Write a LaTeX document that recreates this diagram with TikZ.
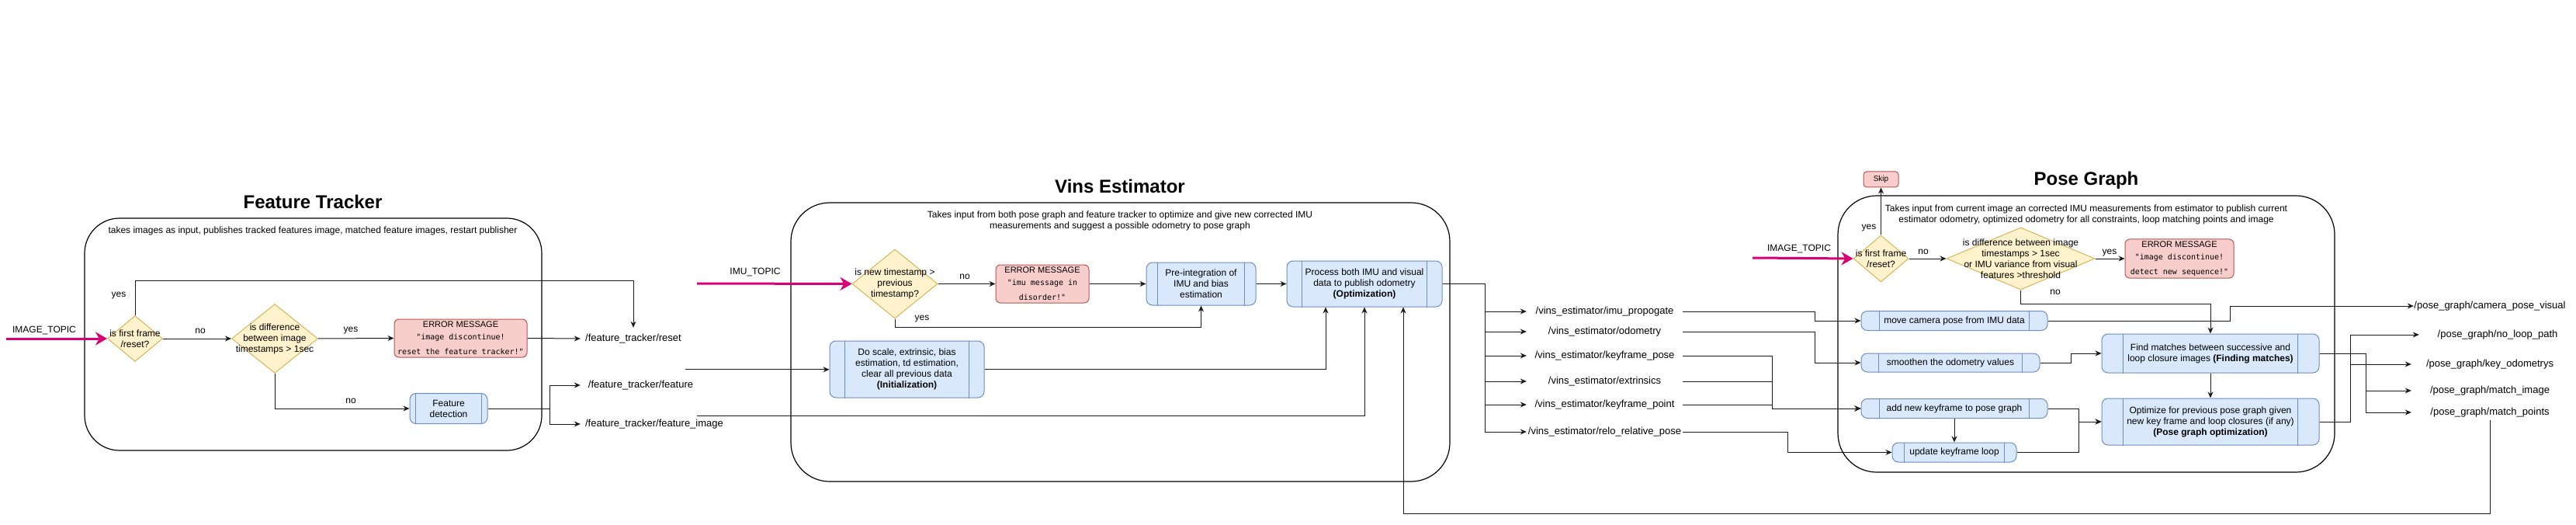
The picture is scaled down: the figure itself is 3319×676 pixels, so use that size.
\documentclass[tikz,border=0pt]{standalone}
\usepackage{fontspec}
\setmainfont{Liberation Sans}
\newfontfamily\monof{DejaVu Sans Mono}
\usetikzlibrary{shapes.geometric,arrows.meta,calc}
\definecolor{yfill}{HTML}{FFF2CC}
\definecolor{ydraw}{HTML}{D6B656}
\definecolor{rfill}{HTML}{F8CECC}
\definecolor{rdraw}{HTML}{B85450}
\definecolor{bfill}{HTML}{DAE8FC}
\definecolor{bdraw}{HTML}{6C8EBF}
\definecolor{topicc}{HTML}{D80073}
\definecolor{linec}{HTML}{1A1A1A}
\newcommand\psides[2]{\draw[pside] ([xshift=#2pt]#1.north west) -- ([xshift=#2pt]#1.south west) ([xshift=-#2pt]#1.north east) -- ([xshift=-#2pt]#1.south east);}
\newcommand\mtxt[1]{{\monof\fontsize{10}{12}\selectfont #1}}
\begin{document}
\begin{tikzpicture}[x=1pt,y=-1pt,
  every node/.style={font=\fontsize{12}{14}\selectfont},
  cont/.style={draw, line width=1.2pt, rounded corners=45pt, inner sep=0},
  ttl/.style={inner sep=0, font=\fontsize{24}{28}\selectfont\bfseries},
  dia/.style={diamond, draw=ydraw, fill=yfill, line width=1pt, inner sep=0},
  dtext/.style={align=center, inner sep=0},
  errbox/.style={draw=rdraw, fill=rfill, line width=1pt, rounded corners=6pt, align=center, inner sep=0, font=\fontsize{11}{16}\selectfont},
  procbox/.style={draw=bdraw, fill=bfill, line width=1pt, rounded corners=8pt, align=center, inner sep=0},
  pside/.style={draw=bdraw, line width=1pt},
  lab/.style={font=\fontsize{13}{15}\selectfont, inner sep=0, minimum height=20pt},
  small/.style={inner sep=0},
  arr/.style={-{Stealth[length=8pt,width=7pt]}, draw=linec, line width=1pt},
  topic/.style={-{Stealth[length=15pt,width=17pt]}, draw=topicc, line width=3pt}
]
\useasboundingbox (0,0) rectangle (3319,676);

% ================= Feature Tracker =================
\node[cont, minimum width=589pt, minimum height=299pt] (ftc) at (403.5,430.5) {};
\node[ttl] (ftt) at (403,260) {Feature Tracker};
\node[small] (ftd) at (403,297) {takes images as input, publishes tracked features image, matched feature images, restart publisher};
\node[small] (it1) at (57,426) {IMAGE\_TOPIC};
\coordinate (src1) at (8,436);
\node[dia, minimum width=71pt, minimum height=59pt] (d1) at (174,436) {};
\node[dtext] (d1t) at (d1) {is first frame\\/reset?};
\node[dia, minimum width=111pt, minimum height=89pt] (d2) at (354,436) {};
\node[dtext] (d2t) at (d2) {is difference\\between image\\timestamps > 1sec};
\node[errbox, minimum width=171pt, minimum height=49pt] (err1) at (593.5,435.5) {ERROR MESSAGE\\\mtxt{"image discontinue!}\\[3pt]\mtxt{reset the feature tracker!"}};
\node[procbox, minimum width=100pt, minimum height=39pt] (fdet) at (578,526) {Feature\\detection};
\psides{fdet}{8}
\node[lab, minimum width=136pt, minimum height=28pt] (ftr) at (816,436) {/feature\_tracker/reset};
\node[lab, minimum width=155pt, minimum height=40pt] (ftf) at (825.5,496) {/feature\_tracker/feature};
\node[lab, minimum width=190pt, minimum height=20pt] (fti) at (843,546) {/feature\_tracker/feature\_image};
\node[small] (y1) at (153,381) {yes};
\node[small] (n1) at (258,426) {no};
\node[small] (y2) at (452,426) {yes};
\node[small] (n2) at (452,516) {no};

\draw[topic] (src1) -- (d1.west);
\draw[arr] (d1.north) -- ++(0,-45) -| (ftr.north);
\draw[arr] (d1.east) -- (d2.west);
\draw[arr] (d2.east) -- (err1.west);
\draw[arr] (err1.east) -- (ftr.west);
\draw[arr] (d2.south) |- (fdet.west);
\draw[arr] (fdet.east) -- ++(80,0) |- (ftf.west);
\draw[arr] (fdet.east) -- ++(80,0) |- (fti.west);

% ================= Vins Estimator =================
\node[cont, rounded corners=50pt, minimum width=849pt, minimum height=359pt] (vc) at (1443.5,440.5) {};
\node[ttl] (vt) at (1443,240) {Vins Estimator};
\node[small, align=center] (vd) at (1443,284) {Takes input from both pose graph and feature tracker to optimize and give new corrected IMU\\measurements and suggest a possible odometry to pose graph};
\node[small] (it2) at (973,351) {IMU\_TOPIC};
\coordinate (src2) at (898,365);
\node[dia, minimum width=110pt, minimum height=89pt] (d3) at (1153,365.5) {};
\node[dtext] (d3t) at (d3) {is new timestamp >\\previous\\timestamp?};
\node[errbox, minimum width=120pt, minimum height=49pt] (err2) at (1343,365.5) {ERROR MESSAGE\\\mtxt{"imu message in}\\[3pt]\mtxt{disorder!"}};
\node[procbox, minimum width=141pt, minimum height=55pt] (pre) at (1547.5,365.5) {Pre-integration of\\IMU and bias\\estimation};
\psides{pre}{15}
\node[procbox, minimum width=200pt, minimum height=59pt] (optz) at (1758,365.5) {Process both IMU and visual\\data to publish odometry\\\textbf{(Optimization)}};
\psides{optz}{20}
\node[procbox, minimum width=199pt, minimum height=73pt] (init) at (1168.5,475.5) {Do scale, extrinsic, bias\\estimation, td estimation,\\clear all previous data\\\textbf{(Initialization)}};
\psides{init}{20}
\node[small] (n3) at (1243,356) {no};
\node[small] (y3) at (1188,411) {yes};

\draw[topic] (src2) -- (d3.west);
\draw[arr] (d3.east) -- (err2.west);
\draw[arr] (err2.east) -- (pre.west);
\draw[arr] (d3.south) -- ++(0,11) -| (pre.south);
\draw[arr] (pre.east) -- (optz.west);
\draw[arr] ([xshift=-20pt]ftf.north east) -- (init.west |- ftf.north);
\draw[arr] (init.east) -| ([xshift=-50pt]optz.south);
\draw[arr] ([xshift=-40pt]fti.north east) -| (optz.south);

% vins outputs
\node[lab, minimum width=201pt] (vl1) at (2067.5,401) {/vins\_estimator/imu\_propogate};
\node[lab, minimum width=201pt] (vl2) at (2067.5,427) {/vins\_estimator/odometry};
\node[lab, minimum width=201pt] (vl3) at (2067.5,458) {/vins\_estimator/keyframe\_pose};
\node[lab, minimum width=201pt] (vl4) at (2067.5,491) {/vins\_estimator/extrinsics};
\node[lab, minimum width=201pt] (vl5) at (2067.5,521) {/vins\_estimator/keyframe\_point};
\node[lab, minimum width=201pt] (vl6) at (2067.5,556) {/vins\_estimator/relo\_relative\_pose};
\draw[arr] (optz.east) -- ++(55,0) |- (vl1.west);
\draw[arr] (optz.east) -- ++(55,0) |- (vl2.west);
\draw[arr] (optz.east) -- ++(55,0) |- (vl3.west);
\draw[arr] (optz.east) -- ++(55,0) |- (vl4.west);
\draw[arr] (optz.east) -- ++(55,0) |- (vl5.west);
\draw[arr] (optz.east) -- ++(55,0) |- (vl6.west);

% ================= Pose Graph =================
\node[cont, rounded corners=50pt, minimum width=640pt, minimum height=356pt] (pgc) at (2688,430) {};
\node[ttl] (pgt) at (2688,232) {Pose Graph};
\node[small, align=center] (pgd) at (2688,276) {Takes input from current image an corrected IMU measurements from estimator to publish current\\estimator odometry, optimized odometry for all constraints, loop matching points and image};
\node[errbox, rounded corners=4pt, minimum width=45pt, minimum height=20pt, font=\fontsize{10}{12}\selectfont] (skip) at (2423.5,231) {Skip};
\node[small] (it3) at (2318,321) {IMAGE\_TOPIC};
\coordinate (src3) at (2258,332);
\node[dia, minimum width=71pt, minimum height=60pt] (d4) at (2423.5,333) {};
\node[dtext] (d4t) at (d4) {is first frame\\/reset?};
\node[dia, minimum width=191pt, minimum height=80pt] (d5) at (2603.5,333) {};
\node[dtext] (d5t) at (d5) {is difference between image\\timestamps > 1sec\\or IMU variance from visual\\features >threshold};
\node[errbox, minimum width=140pt, minimum height=50pt] (err3) at (2808,333) {ERROR MESSAGE\\\mtxt{"image discontinue!}\\[3pt]\mtxt{detect new sequence!"}};
\node[small] (y4) at (2408,294) {yes};
\node[small] (n4) at (2478,324) {no};
\node[small] (y5) at (2718,326) {yes};
\node[small] (n5) at (2648,376) {no};

\node[procbox, minimum width=240pt, minimum height=25pt] (move) at (2518,413) {move camera pose from IMU data};
\psides{move}{24}
\node[procbox, minimum width=230pt, minimum height=24pt] (smooth) at (2513,467) {smoothen the odometry values};
\psides{smooth}{23}
\node[procbox, minimum width=240pt, minimum height=25pt] (addkf) at (2518,526) {add new keyframe to pose graph};
\psides{addkf}{24}
\node[procbox, minimum width=160pt, minimum height=25pt] (updkf) at (2518,582.5) {update keyframe loop};
\psides{updkf}{16}
\node[procbox, minimum width=280pt, minimum height=50pt] (findm) at (2848,455) {Find matches between successive and\\loop closure images \textbf{(Finding matches)}};
\psides{findm}{28}
\node[procbox, minimum width=280pt, minimum height=60pt] (optim) at (2848,543) {Optimize for previous pose graph given\\new key frame and loop closures (if any)\\\textbf{(Pose graph optimization)}};
\psides{optim}{28}

\node[lab, minimum width=196pt] (pl1) at (3208,394) {/pose\_graph/camera\_pose\_visual};
\node[lab, minimum width=202pt] (pl2) at (3218,431) {/pose\_graph/no\_loop\_path};
\node[lab, minimum width=202pt] (pl3) at (3208,469) {/pose\_graph/key\_odometrys};
\node[lab, minimum width=202pt] (pl4) at (3208,503) {/pose\_graph/match\_image};
\node[lab, minimum width=202pt] (pl5) at (3208,531) {/pose\_graph/match\_points};

\draw[topic] (src3) -- (d4.west);
\draw[arr] (d4.north) -- (skip.south);
\draw[arr] (d4.east) -- (d5.west);
\draw[arr] (d5.east) -- (err3.west);
\draw[arr] (d5.south) -- ++(0,18) -| (findm.north);
\draw[arr] (vl1.east) -- ++(170,0) |- (move.west);
\draw[arr] (vl2.east) -- ++(170,0) |- (smooth.west);
\draw[arr] (vl3.east) -- ++(115,0) |- (addkf.west);
\draw[arr] (vl4.east) -- ++(115,0) |- (addkf.west);
\draw[arr] (vl5.east) -- ++(115,0) |- (addkf.west);
\draw[arr] (vl6.east) -- ++(135,0) |- (updkf.west);
\draw[arr] (move.east) -- ++(235,0) |- (pl1.west);
\draw[arr] (smooth.east) -- ++(40,0) |- (findm.west);
\draw[arr] (addkf.south) -- (updkf.north);
\draw[arr] (addkf.east) -- ++(40,0) |- (optim.west);
\draw[arr] (updkf.east) -- ++(80,0) |- (optim.west);
\draw[arr] (findm.south) -- (optim.north);
\draw[arr] (findm.east) -- ++(60,0) |- (pl4.west);
\draw[arr] (findm.east) -- ++(60,0) |- (pl5.west);
\draw[arr] (optim.east) -- ++(40,0) |- (pl2.west);
\draw[arr] (optim.east) -- ++(40,0) |- (pl3.west);
\draw[arr] (pl5.south) -- ++(0,120) -| ([xshift=50pt]optz.south);
\end{tikzpicture}
\end{document}
